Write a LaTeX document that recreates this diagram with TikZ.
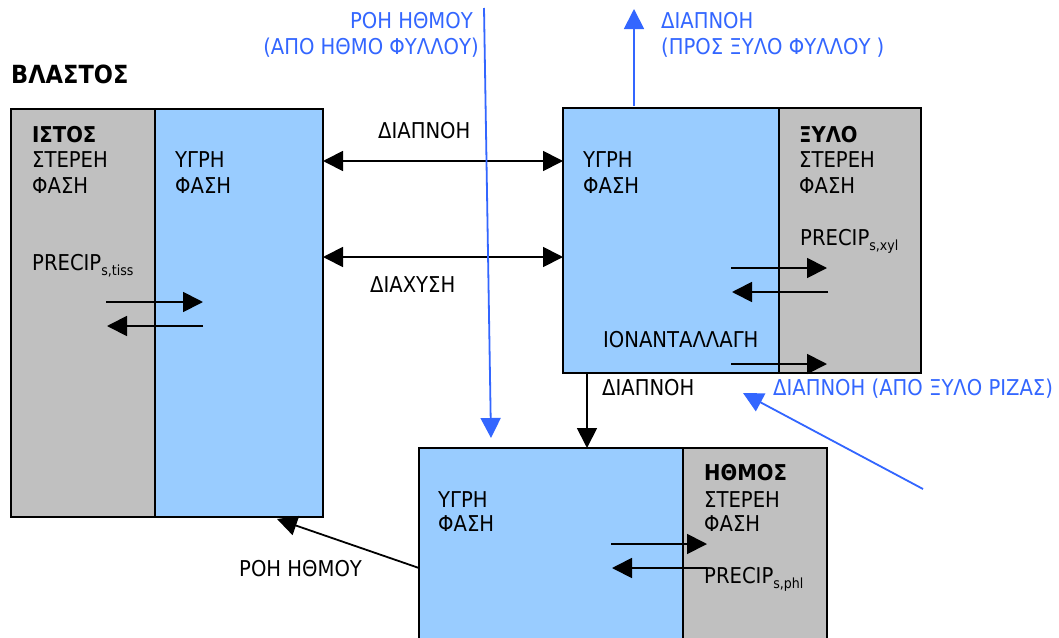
\documentclass[tikz,border=0pt]{standalone}
\usepackage{fontspec}
\setmainfont{DejaVu Sans Condensed}
\usetikzlibrary{arrows.meta}
\definecolor{liq}{HTML}{99CCFF}
\definecolor{sol}{HTML}{C0C0C0}
\definecolor{flow}{HTML}{3366FF}
\newcommand{\sbs}[1]{\raisebox{-5pt}{\fontsize{14}{14}\selectfont #1}}
\tikzset{
  x=1pt, y=-1pt,
  txt/.style={anchor=base west, inner sep=0pt, font=\fontsize{21.8}{24}\selectfont},
  txte/.style={anchor=base east, inner sep=0pt, font=\fontsize{21.8}{24}\selectfont},
  bold/.style={font=\fontsize{21.8}{24}\selectfont\bfseries},
  bluetxt/.style={text=flow},
  liqbox/.style={fill=liq, draw=black, line width=1.8pt},
  solbox/.style={fill=sol, draw=black, line width=1.8pt},
  arr/.style={line width=1.8pt, -{Triangle[length=20pt,width=20pt]}},
  darr/.style={line width=1.8pt, {Triangle[length=20pt,width=20pt]}-{Triangle[length=20pt,width=20pt]}},
  barr/.style={line width=1.8pt, draw=flow, -{Triangle[length=20pt,width=20pt]}, flow},
}
\begin{document}
\begin{tikzpicture}
\useasboundingbox (0,0) rectangle (1059,637);
\clip (0,0) rectangle (1059,637);
\fill[white] (0,0) rectangle (1059,637);

% ---- Left box (stem tissue)
\draw[solbox] (11,109) rectangle (155,517);
\draw[liqbox] (155,109) rectangle (323,517);
\coordinate (tissR) at (323,161);
\coordinate (tissR2) at (323,257);
\coordinate (tissBot) at (277,519);

% ---- Top right box (xylem)
\draw[liqbox] (563,108) rectangle (779,373);
\draw[solbox] (779,108) rectangle (921,373);
\coordinate (xylL) at (563,161);
\coordinate (xylL2) at (563,257);
\coordinate (xylTop) at (634,106);
\coordinate (xylTopEnd) at (634,9);
\coordinate (xylBot) at (587,373);
\coordinate (xylBotIn) at (743,393);
\coordinate (rootSrc) at (923,489);

% ---- Bottom box (phloem)
\draw[liqbox] (419,448) rectangle (683,645);
\draw[solbox] (683,448) rectangle (827,645);
\coordinate (phlTop) at (587,448);
\coordinate (phlL) at (419,568);
\coordinate (phlIn) at (491,438);
\coordinate (phlSrc) at (484,8);

% ---- Title
\node[txt, font=\fontsize{25}{28}\selectfont\bfseries] (title) at (11,83) {ΒΛΑΣΤΟΣ};

% ---- Left box texts
\node[txt, bold] (istos) at (32,142) {ΙΣΤΟΣ};
\node[txt] (istos2) at (32,167) {ΣΤΕΡΕΗ};
\node[txt] (istos3) at (32,193) {ΦΑΣΗ};
\node[txt] (tissliq1) at (175,167) {ΥΓΡΗ};
\node[txt] (tissliq2) at (175,193) {ΦΑΣΗ};
\node[txt] (prectiss) at (32,270) {PRECIP\sbs{s,tiss}};
\coordinate (ta1) at (106,302); \coordinate (ta2) at (203,302);
\coordinate (tb1) at (203,326); \coordinate (tb2) at (107,326);
\draw[arr] (ta1) -- (ta2);
\draw[arr] (tb1) -- (tb2);

% ---- Between boxes
\node[txt] (diapnoh1) at (378,138) {ΔΙΑΠΝΟΗ};
\node[txt] (diaxysh) at (370,292) {ΔΙΑΧΥΣΗ};
\draw[darr] (tissR) -- (xylL);
\draw[darr] (tissR2) -- (xylL2);

% ---- Xylem texts
\node[txt] (xylliq1) at (583,167) {ΥΓΡΗ};
\node[txt] (xylliq2) at (583,193) {ΦΑΣΗ};
\node[txt, bold] (xylo) at (799,142) {ΞΥΛΟ};
\node[txt] (xylo2) at (799,167) {ΣΤΕΡΕΗ};
\node[txt] (xylo3) at (799,193) {ΦΑΣΗ};
\node[txt] (precxyl) at (800,245) {PRECIP\sbs{s,xyl}};
\node[txt] (ionex) at (603,347) {ΙΟΝΑΝΤΑΛΛΑΓΗ};
\coordinate (xa1) at (731,268); \coordinate (xa2) at (827,268);
\coordinate (xb1) at (828,292); \coordinate (xb2) at (732,292);
\coordinate (xc1) at (731,364); \coordinate (xc2) at (827,364);
\draw[arr] (xa1) -- (xa2);
\draw[arr] (xb1) -- (xb2);
\draw[arr] (xc1) -- (xc2);

% ---- Top blue labels
\node[txte, bluetxt] (phlin1) at (473,28) {ΡΟΗ ΗΘΜΟΥ};
\node[txte, bluetxt] (phlin2) at (479,54) {(ΑΠΟ ΗΘΜΟ ΦΥΛΛΟΥ)};
\node[txt, bluetxt] (xylout1) at (661,28) {ΔΙΑΠΝΟΗ};
\node[txt, bluetxt] (xylout2) at (661,54) {(ΠΡΟΣ ΞΥΛΟ ΦΥΛΛΟΥ )};
\draw[barr] (xylTop) -- (xylTopEnd);
\draw[barr] (phlSrc) -- (phlIn);

% ---- Below xylem
\node[txt] (diapnoh2) at (602,395) {ΔΙΑΠΝΟΗ};
\node[txt, bluetxt] (rootin) at (773,395) {ΔΙΑΠΝΟΗ (ΑΠΟ ΞΥΛΟ ΡΙΖΑΣ)};
\draw[arr] (xylBot) -- (phlTop);
\draw[barr] (rootSrc) -- (xylBotIn);

% ---- Phloem texts
\node[txt] (phlliq1) at (438,507) {ΥΓΡΗ};
\node[txt] (phlliq2) at (438,531) {ΦΑΣΗ};
\node[txt, bold] (hthmos) at (704,480) {ΗΘΜΟΣ};
\node[txt] (hthmos2) at (704,507) {ΣΤΕΡΕΗ};
\node[txt] (hthmos3) at (704,531) {ΦΑΣΗ};
\node[txt] (precphl) at (704,583) {PRECIP\sbs{s,phl}};
\coordinate (pa1) at (611,544); \coordinate (pa2) at (707,544);
\coordinate (pb1) at (707,568); \coordinate (pb2) at (612,568);
\draw[arr] (pa1) -- (pa2);
\draw[arr] (pb1) -- (pb2);

% ---- Phloem flow to stem
\node[txt] (phlflow) at (239,576) {ΡΟΗ ΗΘΜΟΥ};
\draw[arr] (phlL) -- (tissBot);
\end{tikzpicture}
\end{document}
